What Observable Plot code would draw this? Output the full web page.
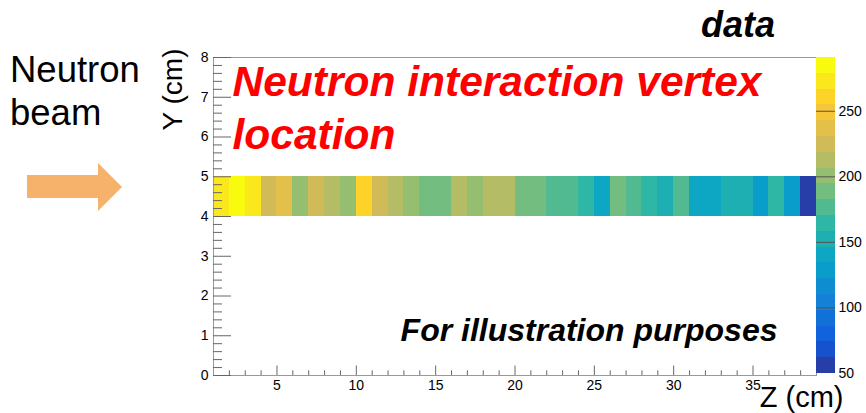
<!DOCTYPE html>
<html>
<head>
<meta charset="utf-8">
<script src="https://cdn.jsdelivr.net/npm/d3@7"></script>
<script src="https://cdn.jsdelivr.net/npm/@observablehq/plot@0.6"></script>
<style>
  html, body { margin: 0; padding: 0; background: #fff; }
  #wrap { position: relative; width: 866px; height: 413px; overflow: hidden; font-family: "Liberation Sans", Arial, Helvetica, sans-serif; }
  #wrap > * { position: absolute; top: 0; }
</style>
</head>
<body>
<div id="wrap"></div>
<script>
// ---- data ----
const zBinStart = [1,2,3,4,5,6,7,8,9,10,11,12,13,14,15,16,17,18,19,20,21,22,23,24,25,26,27,28,29,30,31,32,33,34,35,36,37,38];
const counts = [272,291,274,224,236,200,226,212,201,262,225,213,202,188,190,214,200,212,213,189,
                187,177,176,165,140,190,178,164,153,177,141,140,152,153,128,165,130,50];
const yRowLow = 4, yRowHigh = 5;
const xTickLabels = [5,10,15,20,25,30,35];
const yTickLabels = [0,1,2,3,4,5,6,7,8];
const colorTickLabels = [50,100,150,200,250];
const zMin = 50, zMax = 291, nContours = 20;

// ROOT kBird palette stops
const birdStops = [0.0, 0.125, 0.25, 0.375, 0.5, 0.625, 0.75, 0.875, 1.0];
const birdR = [0.2082, 0.0592, 0.0780, 0.0232, 0.1802, 0.5301, 0.8186, 0.9956, 0.9764];
const birdG = [0.1664, 0.3599, 0.5041, 0.6419, 0.7178, 0.7492, 0.7328, 0.7862, 0.9832];
const birdB = [0.5293, 0.8684, 0.8385, 0.7914, 0.6425, 0.4662, 0.3499, 0.1968, 0.0539];

const sR = d3.scaleLinear(birdStops, birdR), sG = d3.scaleLinear(birdStops, birdG), sB = d3.scaleLinear(birdStops, birdB);
const bird = t => d3.rgb(sR(t) * 255, sG(t) * 255, sB(t) * 255).formatHex();
const step = (zMax - zMin) / nContours;
const bandIdx = d3.range(nContours);
const bandColors = bandIdx.map(i => bird(Math.floor((i + 0.99) * 255 / nContours) / 254));
const thresholds = bandIdx.slice(1).map(i => zMin + i * step);
const bands = bandIdx.map(i => ({lo: zMin + i * step, hi: zMin + (i + 1) * step, mid: zMin + (i + 0.5) * step}));

const cells = zBinStart.map((z, i) => ({z, v: counts[i]}));
const xMinor = d3.range(2, 39).filter(d => d % 5 !== 0);
const yMinor = d3.range(0, 40).map(d => d / 5).filter(d => !Number.isInteger(d));

const FONT = "Liberation Sans, Arial, Helvetica, sans-serif";
const tickColor = "#666";
const colorScale = {type: "threshold", domain: thresholds, range: bandColors};

const main = Plot.plot({
  width: 866, height: 413,
  marginLeft: 213, marginRight: 50, marginTop: 57, marginBottom: 38,
  style: {fontFamily: FONT, fontSize: "14px", background: "transparent", overflow: "visible"},
  x: {domain: [1, 39], label: null},
  y: {domain: [0, 8], label: null},
  color: colorScale,
  marks: [
    Plot.rect(cells, {x1: "z", x2: d => d.z + 1, y1: yRowLow, y2: yRowHigh, fill: "v", shapeRendering: "crispEdges"}),
    Plot.frame({stroke: "#999"}),
    // x ticks (inside, ROOT style)
    Plot.ruleX(xTickLabels, {x: d => d, y1: 0, y2: 0, insetTop: -9.5, stroke: tickColor}),
    Plot.ruleX(xMinor, {x: d => d, y1: 0, y2: 0, insetTop: -4.7, stroke: tickColor}),
    // y ticks
    Plot.ruleY(yTickLabels, {y: d => d, x1: 1, x2: 1, insetRight: -18, stroke: tickColor}),
    Plot.ruleY(yMinor, {y: d => d, x1: 1, x2: 1, insetRight: -9, stroke: tickColor}),
    Plot.axisX({ticks: xTickLabels, tickSize: 0, tickPadding: 5, fontSize: 14, label: null}),
    Plot.axisY({ticks: yTickLabels, tickSize: 0, tickPadding: 5, fontSize: 14, label: null}),
    // axis titles
    Plot.text(["Y (cm)"], {frameAnchor: "top-left", dx: -40, dy: -9, rotate: -90, textAnchor: "end", lineAnchor: "middle", fontSize: 28}),
    Plot.text(["Z (cm)"], {frameAnchor: "bottom-right", dx: 27, dy: 22, textAnchor: "end", lineAnchor: "middle", fontSize: 29}),
    // annotations
    Plot.text(["Neutron interaction vertex"], {frameAnchor: "top-left", dx: 19, dy: 25, textAnchor: "start", lineAnchor: "middle", fontSize: 42.5, fontWeight: "bold", fontStyle: "italic", fill: "#ff0000"}),
    Plot.text(["location"], {frameAnchor: "top-left", dx: 19, dy: 78, textAnchor: "start", lineAnchor: "middle", fontSize: 42.5, fontWeight: "bold", fontStyle: "italic", fill: "#ff0000"}),
    Plot.text(["For illustration purposes"], {frameAnchor: "bottom-right", dx: -39, dy: -44.5, textAnchor: "end", lineAnchor: "middle", fontSize: 32, fontWeight: "bold", fontStyle: "italic", fill: "#000"})
  ]
});

const bar = Plot.plot({
  width: 50, height: 413,
  marginLeft: 0, marginRight: 31, marginTop: 57, marginBottom: 40,
  style: {fontFamily: FONT, fontSize: "14px", background: "transparent", overflow: "visible"},
  x: {domain: [0, 1], axis: null},
  y: {domain: [zMin, zMax], label: null},
  color: colorScale,
  marks: [
    Plot.rect(bands, {x1: 0, x2: 1, y1: "lo", y2: "hi", fill: "mid", shapeRendering: "crispEdges"}),
    Plot.ruleY(colorTickLabels.slice(1), {y: d => d, stroke: "#555", strokeWidth: 1}),
    Plot.axisY({anchor: "right", ticks: colorTickLabels, tickSize: 0, tickPadding: 3, fontSize: 14, label: null})
  ]
});

const wrap = document.getElementById("wrap");
main.style.left = "0px";
bar.style.left = "816px";
wrap.appendChild(main);
wrap.appendChild(bar);

// decorations outside the plot area
const ns = "http://www.w3.org/2000/svg";
const deco = document.createElementNS(ns, "svg");
deco.setAttribute("width", 866); deco.setAttribute("height", 413);
deco.style.left = "0px"; deco.style.pointerEvents = "none";
deco.innerHTML = `
  <text x="10" y="82" font-family="${FONT}" font-size="36.5">Neutron</text>
  <text x="10" y="125" font-family="${FONT}" font-size="36.5">beam</text>
  <polygon points="27,175 98,175 98,163 122,187 98,211 98,198 27,198" fill="#f6b26b"/>
  <text x="775" y="37" text-anchor="end" font-family="${FONT}" font-size="36" font-weight="bold" font-style="italic">data</text>
`;
wrap.appendChild(deco);
</script>
</body>
</html>
